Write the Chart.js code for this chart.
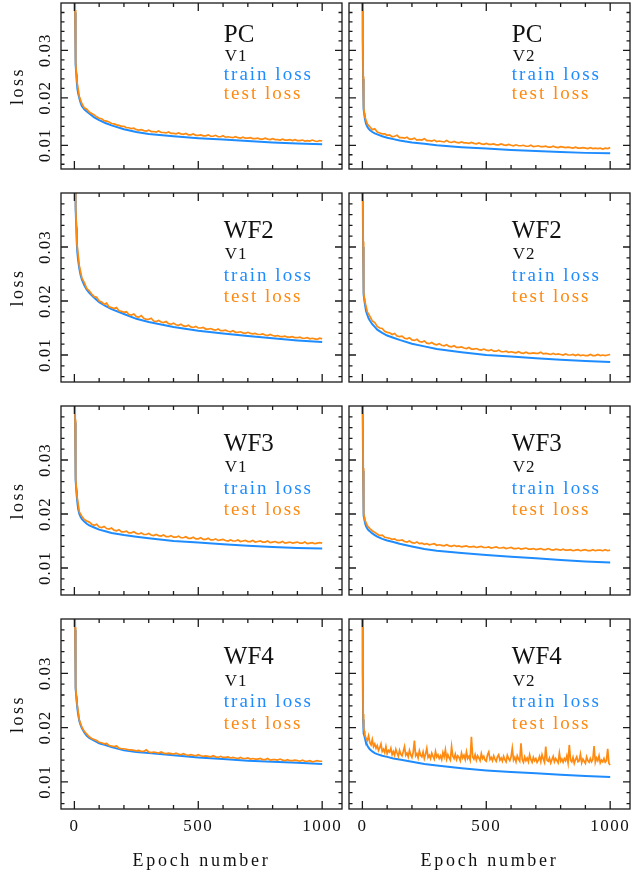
<!DOCTYPE html>
<html>
<head>
<meta charset="utf-8">
<script src="https://cdn.jsdelivr.net/npm/chart.js@4.4.1/dist/chart.umd.min.js"></script>
<style>
  html, body { margin: 0; padding: 0; background: #ffffff; }
  #page { position: relative; width: 633px; height: 876px; overflow: hidden; background: #ffffff; }
  #page canvas { position: absolute; }
</style>
</head>
<body>
<div id="page"></div>
<script>
// ---------------- DATA ----------------
const PANEL_NAMES = ['PC', 'PC', 'WF2', 'WF2', 'WF3', 'WF3', 'WF4', 'WF4'];
const PANEL_VERSIONS = ['V1', 'V2', 'V1', 'V2', 'V1', 'V2', 'V1', 'V2'];
const SERIES_LABELS = ['train loss', 'test loss'];
const X_TICK_LABELS = [0, 500, 1000];
const Y_TICK_LABELS = [0.01, 0.02, 0.03];
const X_AXIS_TITLE = 'Epoch number';
const Y_AXIS_TITLE = 'loss';

const EPOCHS_TRAIN = [0, 1, 2, 3, 4, 5, 6, 8, 10, 12, 15, 20, 25, 30, 40, 50, 60, 80, 100, 125, 150, 200, 250, 300, 400, 500, 600, 700, 800, 900, 1000];
const EPOCHS_TEST = [0, 1, 2, 3, 4, 5, 6, 8,
  10, 20, 30, 40, 50, 60, 70, 80, 90, 100,
  110, 120, 130, 140, 150, 160, 170, 180, 190, 200,
  210, 220, 230, 240, 250, 260, 270, 280, 290, 300,
  310, 320, 330, 340, 350, 360, 370, 380, 390, 400,
  410, 420, 430, 440, 450, 460, 470, 480, 490, 500,
  510, 520, 530, 540, 550, 560, 570, 580, 590, 600,
  610, 620, 630, 640, 650, 660, 670, 680, 690, 700,
  710, 720, 730, 740, 750, 760, 770, 780, 790, 800,
  810, 820, 830, 840, 850, 860, 870, 880, 890, 900,
  910, 920, 930, 940, 950, 960, 970, 980, 990, 1000];
const EPOCHS_TEST_FINE = [0, 1, 2, 3, 4, 5, 6, 8,
  10, 15, 20, 25, 30, 35, 40, 45, 50, 55,
  60, 65, 70, 75, 80, 85, 90, 95, 100, 105,
  110, 115, 120, 125, 130, 135, 140, 145, 150, 155,
  160, 165, 170, 175, 180, 185, 190, 195, 200, 205,
  210, 215, 220, 225, 230, 235, 240, 245, 250, 255,
  260, 265, 270, 275, 280, 285, 290, 295, 300, 305,
  310, 315, 320, 325, 330, 335, 340, 345, 350, 355,
  360, 365, 370, 375, 380, 385, 390, 395, 400, 405,
  410, 415, 420, 425, 430, 435, 440, 445, 450, 455,
  460, 465, 470, 475, 480, 485, 490, 495, 500, 505,
  510, 515, 520, 525, 530, 535, 540, 545, 550, 555,
  560, 565, 570, 575, 580, 585, 590, 595, 600, 605,
  610, 615, 620, 625, 630, 635, 640, 645, 650, 655,
  660, 665, 670, 675, 680, 685, 690, 695, 700, 705,
  710, 715, 720, 725, 730, 735, 740, 745, 750, 755,
  760, 765, 770, 775, 780, 785, 790, 795, 800, 805,
  810, 815, 820, 825, 830, 835, 840, 845, 850, 855,
  860, 865, 870, 875, 880, 885, 890, 895, 900, 905,
  910, 915, 920, 925, 930, 935, 940, 945, 950, 955,
  960, 965, 970, 975, 980, 985, 990, 995, 1000];

const TRAIN_PC_V1 = [.090, .060, .046, .038, .033, .0295, .027, .0248, .0232, .0220, .0210, .0199, .0190, .0183, .0176, .0171, .0167, .0159, .0153, .0147, .0142, .0134, .0128, .0124, .0119, .0115, .0112, .0109, .0106, .0104, .0102];
const TEST_PC_V1 = [.090, .061, .047, .0385, .0335, .030, .0275, .0252,
  .0236, .0203, .0188, .0179, .0176, .0170, .0167, .0164, .0160, .0157,
  .0156, .0152, .0151, .0149, .0146, .0145, .0143, .0142, .0140, .0140,
  .0137, .0137, .0135, .0136, .0133, .0132, .0133, .0131, .0130, .0132,
  .0129, .0129, .0128, .0130, .0127, .0127, .0126, .0128, .0125, .0125,
  .0124, .0126, .0124, .0123, .0125, .0122, .0122, .0124, .0121, .0121,
  .0122, .0120, .0120, .0122, .0119, .0119, .0121, .0118, .0118, .0120,
  .0117, .0118, .0117, .0116, .0118, .0116, .0115, .0117, .0115, .0115,
  .0116, .0114, .0114, .0115, .0113, .0113, .0115, .0113, .0112, .0114,
  .0112, .0112, .0111, .0113, .0111, .0111, .0112, .0110, .0112, .0110,
  .0110, .0111, .0109, .0110, .0109, .0111, .0109, .0108, .0110, .0109];

const TRAIN_PC_V2 = [.090, .050, .032, .024, .0205, .0187, .0176, .0164, .0157, .0151, .0145, .0139, .0135, .0132, .0128, .0125, .0123, .0119, .0116, .0113, .0110, .0106, .0103, .0100, .0096, .0093, .0090, .0088, .0086, .0084, .0083];
const TEST_PC_V2 = [.090, .051, .033, .0245, .021, .0191, .0180, .0168,
  .0160, .0145, .0139, .0133, .0135, .0128, .0126, .0124, .0124, .0121,
  .0122, .0118, .0119, .0121, .0116, .0116, .0115, .0117, .0113, .0113,
  .0115, .0111, .0112, .0111, .0114, .0110, .0110, .0109, .0111, .0108,
  .0109, .0108, .0107, .0110, .0107, .0106, .0108, .0106, .0105, .0107,
  .0105, .0105, .0104, .0106, .0104, .0103, .0105, .0103, .0102, .0104,
  .0102, .0102, .0103, .0101, .0101, .0103, .0101, .0100, .0102, .0100,
  .0099, .0101, .0099, .0099, .0100, .0098, .0098, .0100, .0097, .0098,
  .0099, .0097, .0097, .0098, .0096, .0096, .0098, .0096, .0095, .0097,
  .0096, .0095, .0096, .0095, .0094, .0096, .0094, .0094, .0095, .0094,
  .0093, .0095, .0093, .0094, .0093, .0094, .0092, .0094, .0093, .0095];

const TRAIN_WF2_V1 = [.12, .080, .060, .050, .044, .040, .037, .0335, .0305, .0290, .0276, .0260, .0248, .0240, .0229, .0221, .0215, .0206, .0198, .0191, .0185, .0176, .0167, .0161, .0152, .0145, .0140, .0135, .0131, .0127, .0124];
const TEST_WF2_V1 = [.12, .081, .061, .0505, .0445, .0405, .0375, .0338,
  .0308, .0265, .0243, .0234, .0223, .0219, .0213, .0208, .0207, .0200,
  .0198, .0194, .0196, .0189, .0188, .0186, .0188, .0182, .0181, .0179,
  .0180, .0175, .0174, .0176, .0171, .0170, .0173, .0168, .0166, .0166,
  .0168, .0163, .0162, .0164, .0161, .0160, .0162, .0158, .0157, .0159,
  .0156, .0155, .0157, .0154, .0153, .0155, .0152, .0151, .0153, .0150,
  .0150, .0151, .0148, .0148, .0149, .0147, .0146, .0148, .0145, .0145,
  .0146, .0144, .0143, .0145, .0142, .0142, .0143, .0141, .0140, .0142,
  .0140, .0139, .0140, .0138, .0138, .0139, .0137, .0136, .0138, .0136,
  .0135, .0136, .0134, .0134, .0135, .0133, .0133, .0134, .0132, .0132,
  .0133, .0131, .0131, .0132, .0130, .0131, .0130, .0129, .0131, .0130];

const TRAIN_WF2_V2 = [.10, .060, .040, .030, .0255, .0225, .0212, .0201, .0195, .0189, .0181, .0174, .0168, .0164, .0157, .0152, .0147, .0141, .0136, .0132, .0128, .0121, .0116, .0111, .0105, .0100, .0097, .0094, .0091, .0089, .0087];
const TEST_WF2_V2 = [.10, .061, .041, .031, .026, .0229, .0216, .0205,
  .0199, .0180, .0172, .0163, .0160, .0153, .0150, .0149, .0144, .0142,
  .0141, .0138, .0140, .0135, .0134, .0135, .0131, .0130, .0132, .0128,
  .0127, .0129, .0125, .0124, .0126, .0122, .0121, .0123, .0120, .0119,
  .0121, .0118, .0117, .0119, .0116, .0115, .0117, .0114, .0114, .0115,
  .0113, .0112, .0114, .0111, .0111, .0112, .0110, .0109, .0111, .0109,
  .0108, .0110, .0107, .0107, .0109, .0106, .0106, .0107, .0105, .0106,
  .0105, .0104, .0106, .0104, .0103, .0105, .0103, .0103, .0104, .0103,
  .0103, .0105, .0102, .0103, .0102, .0101, .0103, .0101, .0102, .0101,
  .0100, .0102, .0100, .0100, .0101, .0099, .0101, .0099, .0100, .0099,
  .0099, .0101, .0099, .0099, .0101, .0099, .0100, .0099, .0100, .0101];

const TRAIN_WF3_V1 = [.11, .070, .048, .037, .031, .0280, .0262, .0243, .0231, .0222, .0210, .0200, .0195, .0191, .0186, .0182, .0179, .0175, .0171, .0168, .0165, .0161, .0158, .0155, .0150, .0147, .0144, .0141, .0139, .0137, .0136];
const TEST_WF3_V1 = [.11, .071, .049, .0375, .0315, .0284, .0266, .0247,
  .0235, .0204, .0196, .0190, .0187, .0185, .0181, .0179, .0181, .0176,
  .0175, .0177, .0173, .0172, .0174, .0170, .0169, .0171, .0167, .0167,
  .0168, .0165, .0165, .0167, .0164, .0163, .0165, .0162, .0162, .0164,
  .0161, .0160, .0162, .0160, .0159, .0161, .0158, .0158, .0160, .0157,
  .0157, .0159, .0156, .0156, .0158, .0155, .0155, .0157, .0154, .0154,
  .0156, .0153, .0153, .0155, .0152, .0152, .0154, .0151, .0152, .0153,
  .0151, .0150, .0152, .0150, .0150, .0152, .0149, .0150, .0151, .0149,
  .0149, .0151, .0148, .0149, .0150, .0148, .0148, .0150, .0147, .0148,
  .0149, .0147, .0147, .0149, .0146, .0147, .0148, .0146, .0147, .0148,
  .0146, .0146, .0148, .0145, .0146, .0147, .0145, .0146, .0147, .0146];

const TRAIN_WF3_V2 = [.10, .060, .038, .028, .0225, .0204, .0197, .0190, .0185, .0181, .0177, .0173, .0170, .0168, .0164, .0161, .0158, .0154, .0151, .0148, .0145, .0140, .0135, .0132, .0128, .0124, .0121, .0118, .0115, .0112, .0110];
const TEST_WF3_V2 = [.10, .061, .039, .0285, .023, .0208, .0201, .0194,
  .0189, .0178, .0173, .0169, .0166, .0163, .0160, .0161, .0157, .0156,
  .0155, .0153, .0154, .0151, .0151, .0152, .0149, .0148, .0150, .0147,
  .0146, .0148, .0145, .0146, .0144, .0145, .0143, .0144, .0145, .0142,
  .0143, .0142, .0141, .0143, .0141, .0140, .0142, .0140, .0141, .0139,
  .0140, .0141, .0139, .0139, .0140, .0138, .0139, .0140, .0138, .0138,
  .0139, .0137, .0138, .0139, .0137, .0137, .0138, .0136, .0137, .0138,
  .0136, .0136, .0137, .0135, .0136, .0137, .0135, .0135, .0136, .0134,
  .0135, .0136, .0134, .0134, .0136, .0134, .0133, .0135, .0134, .0133,
  .0135, .0133, .0133, .0134, .0132, .0133, .0134, .0132, .0133, .0134,
  .0132, .0132, .0134, .0132, .0133, .0133, .0132, .0134, .0132, .0133];

const TRAIN_WF4_V1 = [.11, .070, .049, .038, .032, .0285, .0272, .0255, .0245, .0236, .0225, .0212, .0205, .0199, .0191, .0185, .0181, .0176, .0171, .0168, .0164, .0158, .0155, .0153, .0149, .0145, .0142, .0139, .0137, .0135, .0133];
const TEST_WF4_V1 = [.11, .071, .0495, .0385, .0322, .0288, .0274, .0258,
  .0247, .0214, .0201, .0193, .0188, .0183, .0180, .0178, .0176, .0173,
  .0172, .0170, .0171, .0167, .0166, .0165, .0166, .0162, .0161, .0161,
  .0160, .0159, .0159, .0158, .0157, .0158, .0156, .0156, .0159, .0155,
  .0154, .0155, .0154, .0153, .0155, .0153, .0152, .0153, .0152, .0151,
  .0153, .0151, .0150, .0152, .0150, .0149, .0150, .0149, .0148, .0150,
  .0148, .0147, .0148, .0147, .0146, .0148, .0146, .0145, .0147, .0145,
  .0145, .0146, .0144, .0145, .0144, .0143, .0145, .0143, .0143, .0144,
  .0142, .0143, .0142, .0142, .0143, .0141, .0141, .0143, .0140, .0141,
  .0141, .0140, .0142, .0140, .0139, .0141, .0139, .0139, .0140, .0139,
  .0138, .0140, .0138, .0138, .0139, .0137, .0138, .0139, .0138, .0138];

const TRAIN_WF4_V2 = [.10, .055, .030, .0215, .0200, .0193, .0189, .0185, .0181, .0177, .0172, .0167, .0163, .0160, .0156, .0153, .0151, .0148, .0146, .0143, .0141, .0137, .0133, .0130, .0125, .0121, .0118, .0116, .0113, .0111, .0109];
const TEST_WF4_V2 = [.10, .056, .031, .0225, .0215, .0210, .0200, .0193,
  .0186, .0180, .0176, .0185, .0172, .0168, .0178, .0165, .0170, .0162,
  .0167, .0158, .0163, .0170, .0156, .0160, .0154, .0165, .0152, .0158,
  .0155, .0162, .0150, .0156, .0149, .0160, .0153, .0147, .0158, .0151,
  .0148, .0156, .0165, .0149, .0153, .0146, .0158, .0150, .0145, .0154,
  .0176, .0148, .0152, .0144, .0157, .0149, .0146, .0155, .0143, .0151,
  .0162, .0145, .0149, .0143, .0153, .0147, .0142, .0156, .0146, .0150,
  .0143, .0148, .0141, .0154, .0146, .0159, .0142, .0150, .0144, .0140,
  .0165, .0147, .0143, .0151, .0141, .0148, .0145, .0139, .0153, .0144,
  .0149, .0141, .0155, .0143, .0147, .0140, .0183, .0146, .0142, .0150,
  .0140, .0148, .0144, .0139, .0152, .0143, .0147, .0140, .0138, .0150,
  .0155, .0141, .0145, .0139, .0148, .0142, .0138, .0146, .0150, .0140,
  .0144, .0138, .0147, .0141, .0137, .0149, .0143, .0139, .0146, .0162,
  .0140, .0145, .0137, .0148, .0142, .0138, .0171, .0141, .0136, .0146,
  .0139, .0144, .0137, .0150, .0141, .0136, .0145, .0139, .0143, .0136,
  .0140, .0147, .0137, .0150, .0142, .0136, .0165, .0140, .0138, .0144,
  .0135, .0141, .0147, .0137, .0143, .0139, .0135, .0153, .0138, .0142,
  .0136, .0143, .0139, .0148, .0135, .0168, .0140, .0137, .0145, .0134,
  .0141, .0146, .0137, .0139, .0151, .0135, .0142, .0138, .0134, .0146,
  .0139, .0136, .0143, .0137, .0141, .0166, .0136, .0144, .0139, .0148,
  .0135, .0140, .0137, .0143, .0136, .0139, .0161, .0134, .0131];

const TRAIN_SERIES = [TRAIN_PC_V1, TRAIN_PC_V2, TRAIN_WF2_V1, TRAIN_WF2_V2, TRAIN_WF3_V1, TRAIN_WF3_V2, TRAIN_WF4_V1, TRAIN_WF4_V2];
const TEST_SERIES = [TEST_PC_V1, TEST_PC_V2, TEST_WF2_V1, TEST_WF2_V2, TEST_WF3_V1, TEST_WF3_V2, TEST_WF4_V1, TEST_WF4_V2];
const TEST_EPOCHS = [EPOCHS_TEST, EPOCHS_TEST, EPOCHS_TEST, EPOCHS_TEST, EPOCHS_TEST, EPOCHS_TEST, EPOCHS_TEST, EPOCHS_TEST_FINE];

// ---------------- LAYOUT / STYLE ----------------
const PAGE_W = 633, PAGE_H = 876;
const COL_L = [61, 349], COL_R = [342, 630];
const ROW_T = [3, 193, 406, 619], ROW_B = [169, 382, 595, 809];
const CANVAS_X = [0, 345], CANVAS_W = [345, 288];
const X_MIN = -54, X_MAX = 1080, Y_MIN = 0.005, Y_MAX = 0.04;
const TRAIN_COLOR = '#1e8cff', TEST_COLOR = '#ff8a10', INK = '#111111';
const SERIF = '"Liberation Serif", "DejaVu Serif", serif';
const ANNOT_X = 603; // epoch at which annotation text starts
const ANNOT_Y = [0.0317, 0.0277, 0.0237, 0.0198]; // baselines in loss units

function decorPlugin(row, col, idx) {
  return {
    id: 'decor' + idx,
    afterDatasetsDraw(chart) {
      const ctx = chart.ctx, a = chart.chartArea;
      const xs = chart.scales.x, ys = chart.scales.y;
      ctx.save();
      ctx.strokeStyle = '#1a1a1a';
      ctx.lineWidth = 1.3;
      ctx.strokeRect(a.left, a.top, a.right - a.left, a.bottom - a.top);
      ctx.beginPath();
      for (let v = 0; v <= 1000; v += 100) {
        const px = xs.getPixelForValue(v);
        const len = (v % 500 === 0) ? 8 : 4;
        ctx.moveTo(px, a.bottom); ctx.lineTo(px, a.bottom - len);
        ctx.moveTo(px, a.top); ctx.lineTo(px, a.top + len);
      }
      for (let k = 3; k <= 19; k++) {
        const py = ys.getPixelForValue(k * 0.002);
        const len = (k % 5 === 0) ? 7 : 3.5;
        ctx.moveTo(a.left, py); ctx.lineTo(a.left + len, py);
        ctx.moveTo(a.right, py); ctx.lineTo(a.right - len, py);
      }
      ctx.stroke();

      ctx.fillStyle = INK;
      if (col === 0) {
        ctx.font = '17px ' + SERIF;
        ctx.letterSpacing = '1px';
        ctx.textAlign = 'center';
        ctx.textBaseline = 'alphabetic';
        Y_TICK_LABELS.forEach(v => {
          const py = ys.getPixelForValue(v);
          ctx.save();
          ctx.translate(a.left - 11, py);
          ctx.rotate(-Math.PI / 2);
          ctx.fillText(v.toFixed(2), 0, 0);
          ctx.restore();
        });
        ctx.font = '18px ' + SERIF;
        ctx.letterSpacing = '2.5px';
        ctx.save();
        ctx.translate(a.left - 37.7, (a.top + a.bottom) / 2);
        ctx.rotate(-Math.PI / 2);
        ctx.fillText(Y_AXIS_TITLE, 0, 0);
        ctx.restore();
      }
      if (row === 3) {
        ctx.font = '17px ' + SERIF;
        ctx.letterSpacing = '1.5px';
        ctx.textAlign = 'center';
        ctx.textBaseline = 'alphabetic';
        X_TICK_LABELS.forEach(v => {
          ctx.fillText(String(v), xs.getPixelForValue(v), a.bottom + 21.7);
        });
        ctx.font = '18px ' + SERIF;
        ctx.letterSpacing = '2.7px';
        ctx.fillText(X_AXIS_TITLE, (a.left + a.right) / 2, a.bottom + 57);
      }
      const ax = xs.getPixelForValue(ANNOT_X);
      ctx.textAlign = 'left';
      ctx.textBaseline = 'alphabetic';
      ctx.font = '25px ' + SERIF;
      ctx.letterSpacing = '0px';
      ctx.fillText(PANEL_NAMES[idx], ax, ys.getPixelForValue(ANNOT_Y[0]));
      ctx.font = '17px ' + SERIF;
      ctx.letterSpacing = '1px';
      ctx.fillText(PANEL_VERSIONS[idx], ax + 1, ys.getPixelForValue(ANNOT_Y[1]));
      ctx.font = '19px ' + SERIF;
      ctx.letterSpacing = '2px';
      ctx.fillStyle = TRAIN_COLOR;
      ctx.fillText(SERIES_LABELS[0], ax, ys.getPixelForValue(ANNOT_Y[2]));
      ctx.fillStyle = TEST_COLOR;
      ctx.fillText(SERIES_LABELS[1], ax, ys.getPixelForValue(ANNOT_Y[3]));
      ctx.restore();
    }
  };
}

const page = document.getElementById('page');
for (let idx = 0; idx < 8; idx++) {
  const row = Math.floor(idx / 2), col = idx % 2;
  const cx = CANVAS_X[col], cw = CANVAS_W[col];
  const cy = Math.max(0, ROW_T[row] - 8);
  const cb = row === 3 ? PAGE_H : ROW_B[row] + 8;
  const ch = cb - cy;
  const canvas = document.createElement('canvas');
  canvas.width = cw; canvas.height = ch;
  canvas.style.left = cx + 'px'; canvas.style.top = cy + 'px';
  canvas.style.width = cw + 'px'; canvas.style.height = ch + 'px';
  page.appendChild(canvas);

  const trainData = EPOCHS_TRAIN.map((e, i) => ({ x: e, y: TRAIN_SERIES[idx][i] }));
  const testData = TEST_EPOCHS[idx].map((e, i) => ({ x: e, y: TEST_SERIES[idx][i] }));

  new Chart(canvas, {
    type: 'line',
    data: {
      datasets: [
        { label: SERIES_LABELS[1], data: testData, borderColor: TEST_COLOR, borderWidth: 1.7, pointRadius: 0, tension: 0, order: 1 },
        { label: SERIES_LABELS[0], data: trainData, borderColor: TRAIN_COLOR, borderWidth: 2, pointRadius: 0, tension: 0, order: 2 }
      ]
    },
    options: {
      responsive: false,
      animation: false,
      devicePixelRatio: 1,
      layout: {
        padding: {
          left: COL_L[col] - cx,
          right: cx + cw - COL_R[col],
          top: ROW_T[row] - cy,
          bottom: cb - ROW_B[row]
        }
      },
      plugins: { legend: { display: false }, tooltip: { enabled: false } },
      scales: {
        x: { type: 'linear', min: X_MIN, max: X_MAX, display: false },
        y: { type: 'linear', min: Y_MIN, max: Y_MAX, display: false }
      }
    },
    plugins: [decorPlugin(row, col, idx)]
  });
}
</script>
</body>
</html>
